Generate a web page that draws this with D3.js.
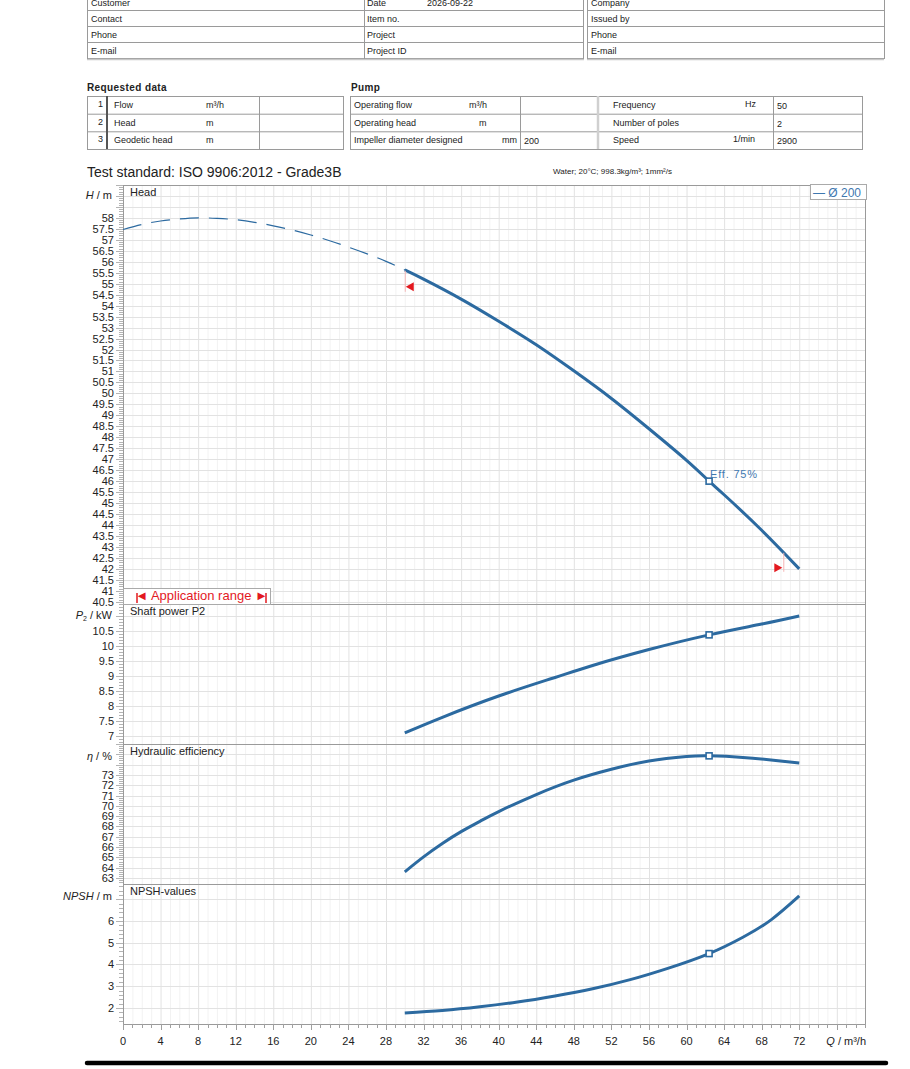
<!DOCTYPE html>
<html><head><meta charset="utf-8">
<script src="https://cdn.jsdelivr.net/npm/d3@7"></script>
<style>
body{margin:0;background:#fff;}
svg{display:block;font-family:"Liberation Sans",Arial,sans-serif;}
</style></head><body>
<svg id="c" width="910" height="1069"></svg>
<script>
// ---------------- data ----------------
const headFlowDashed = [0,2,4,6,8,10,12,14,16,18,20,22,24,26,28,30];
const headDashed     = [57.47,57.7,57.86,57.95,58.0,57.98,57.92,57.8,57.64,57.45,57.22,56.96,56.67,56.36,56.02,55.63];
const headFlow   = [30,32,36,40,44,48,52,56,60,62.4,64,68,72];
const headValues = [55.63,55.21,54.3,53.29,52.22,51.03,49.77,48.39,46.95,46.0,45.38,43.76,42.0];
const powerFlow   = [30,34,40,46,50,56,62.4,68,72];
const powerValues = [7.1,7.62,8.33,8.95,9.35,9.88,10.37,10.73,11.0];
const effFlow   = [30,32,34,36,38,40,44,48,52,56,60,62.4,66,69,72];
const effValues = [63.6,65.05,66.35,67.5,68.5,69.45,71.1,72.5,73.55,74.35,74.78,74.85,74.7,74.45,74.15];
const npshFlow   = [30,34,38,42,46,50,54,58,62.4,66,69,72];
const npshValues = [1.77,1.88,2.05,2.27,2.55,2.88,3.3,3.82,4.5,5.25,6.05,7.15];
const dutyFlow = 62.4;
const dutyValues = {head:46.0, power:10.37, eff:74.85, npsh:4.5};
const appRangeFlow = [30, 70.3];
const appRangeHead = [54.86, 42.05];
const xTickLabels = [0,4,8,12,16,20,24,28,32,36,40,44,48,52,56,60,64,68,72];
const headTickLabels = [40.5,41,41.5,42,42.5,43,43.5,44,44.5,45,45.5,46,46.5,47,47.5,48,48.5,49,49.5,50,50.5,51,51.5,52,52.5,53,53.5,54,54.5,55,55.5,56,56.5,57,57.5,58];
const powerTickLabels = [7,7.5,8,8.5,9,9.5,10,10.5];
const effTickLabels = [63,64,65,66,67,68,69,70,71,72,73];
const npshTickLabels = [2,3,4,5,6];

// ---------------- layout ----------------
const svg = d3.select("#c");
const BLUE = "#2c6aa0", RED = "#e3191f", GRID = "#e2e2e2", GRIDMINOR="#f2f2f2", BORDER = "#9a9a9a";
const X0 = 123, X1 = 865;
const x = d3.scaleLinear().domain([0,79]).range([X0,X1]);

function txt(g, s, px, py, opt={}) {
  return g.append("text").attr("x",px).attr("y",py).text(s)
    .attr("font-size", opt.size||9).attr("fill", opt.fill||"#222")
    .attr("text-anchor", opt.anchor||"start").attr("font-weight", opt.weight||"normal");
}

// ---------------- header table ----------------
const hdr = svg.append("g");
const rowsY = [-6,10,26,42,58];
function hline(g,x1,x2,y,c="#9a9a9a",w=1){g.append("line").attr("x1",x1).attr("x2",x2).attr("y1",y).attr("y2",y).attr("stroke",c).attr("stroke-width",w);}
function vline(g,xx,y1,y2,c="#9a9a9a",w=1){g.append("line").attr("x1",xx).attr("x2",xx).attr("y1",y1).attr("y2",y2).attr("stroke",c).attr("stroke-width",w);}
rowsY.slice(1).forEach(y=>{hline(hdr,87,584,y+0.5); hline(hdr,587,884,y+0.5);});
hline(hdr,87,584,59.5,"#c8c8c8",1.5); hline(hdr,587,884,59.5,"#c8c8c8",1.5);
[87.5,364.5,583.5].forEach(xx=>vline(hdr,xx,0,59));
[587.5,884.5].forEach(xx=>vline(hdr,xx,0,59));
const leftLabels = ["Customer","Contact","Phone","E-mail"];
const midLabels = ["Date","Item no.","Project","Project ID"];
const rightLabels = ["Company","Issued by","Phone","E-mail"];
leftLabels.forEach((s,i)=>txt(hdr,s,91,rowsY[i]+12));
midLabels.forEach((s,i)=>txt(hdr,s,367,rowsY[i]+12));
rightLabels.forEach((s,i)=>txt(hdr,s,591,rowsY[i]+12));
txt(hdr,"2026-09-22",427,rowsY[0]+12);

// ---------------- requested data / pump tables ----------------
const rq = svg.append("g");
txt(rq,"Requested data",87,91,{size:10,weight:"bold"}).attr("letter-spacing","0.4");
txt(rq,"Pump",351,91,{size:10,weight:"bold"}).attr("letter-spacing","0.4");
const tY = [96,113.7,131.3,149];
tY.forEach(y=>{hline(rq,87,344,y+0.5); hline(rq,350,863,y+0.5);});
[87.5,259.5,343.5].forEach(xx=>vline(rq,xx,96,149));
vline(rq,107,96,149,"#555",2);
[350.5,520.5,773.5,862.5].forEach(xx=>vline(rq,xx,96,149));
vline(rq,598,96,149,"#d0d0d0",2.5);
const reqNames = ["Flow","Head","Geodetic head"], reqUnits = ["m³/h","m","m"];
reqNames.forEach((s,i)=>{
  const cy = (tY[i]+tY[i+1])/2+3;
  txt(rq,String(i+1),103,cy-1,{anchor:"end"});
  txt(rq,s,114,cy);
  txt(rq,reqUnits[i],206,cy);
});
const pumpNames = ["Operating flow","Operating head","Impeller diameter designed"];
const pumpUnits = [["m³/h",469],["m",479],["mm",502]];
const pumpVals = ["","","200"];
const pump2Names = ["Frequency","Number of poles","Speed"];
const pump2Units = [["Hz",745],["",0],["1/min",733]];
const pump2Vals = ["50","2","2900"];
pumpNames.forEach((s,i)=>{
  const cy = (tY[i]+tY[i+1])/2+3;
  txt(rq,s,354,cy);
  txt(rq,pumpUnits[i][0],pumpUnits[i][1],cy);
  txt(rq,pumpVals[i],524,cy+1);
  txt(rq,pump2Names[i],613,cy);
  if(pump2Units[i][0]) txt(rq,pump2Units[i][0],pump2Units[i][1],cy-1);
  txt(rq,pump2Vals[i],777,cy+1);
});

// ---------------- title ----------------
txt(svg,"Test standard: ISO 9906:2012 - Grade3B",87,177,{size:14});
txt(svg,"Water; 20°C; 998.3kg/m³; 1mm²/s",553,174,{size:8});

// ---------------- panels ----------------
const panels = [
  {key:"head", top:185, bottom:604, domain:[40.4,59.5], labels:headTickLabels, minor:0.1, grid:0.5, title:"Head"},
  {key:"power", top:604, bottom:744, domain:[6.73,11.4], labels:powerTickLabels, minor:0.1, grid:0.5, title:"Shaft power P2"},
  {key:"eff", top:744, bottom:884, domain:[62.42,76.0], labels:effTickLabels, minor:0.2, grid:1, title:"Hydraulic efficiency"},
  {key:"npsh", top:884, bottom:1024, domain:[1.26,7.7], labels:npshTickLabels, minor:0.2, grid:0.5, title:"NPSH-values"}
];
const ys = {};
const gridG = svg.append("g"), axG = svg.append("g"), curveG = svg.append("g");

d3.range(0,80,1).forEach(q=>{
  if(q%4===0) return;
  gridG.append("line").attr("x1",x(q)+0.5).attr("x2",x(q)+0.5).attr("y1",185).attr("y2",1024).attr("stroke",GRIDMINOR);
});
panels.forEach(p=>{
  const y = d3.scaleLinear().domain(p.domain).range([p.bottom,p.top]);
  ys[p.key]=y;
  const start = Math.ceil(p.domain[0]/p.minor)*p.minor;
  const minorVals = d3.range(Math.round(start/p.minor), Math.floor(p.domain[1]/p.minor)+1).map(k=>+(k*p.minor).toFixed(2));
  minorVals.forEach(v=>{
    const isGrid = Math.abs(v/p.grid - Math.round(v/p.grid))<1e-6;
    const yy = Math.round(y(v))+0.5;
    if(isGrid) gridG.append("line").attr("x1",X0).attr("x2",X1).attr("y1",yy).attr("y2",yy).attr("stroke",GRID);
    axG.append("line").attr("x1",X0-(isGrid?7:4)).attr("x2",X0).attr("y1",yy).attr("y2",yy).attr("stroke","#b4b4b4");
  });
  p.labels.forEach(v=>{
    txt(axG,String(v),114,y(v)+4,{size:11,anchor:"end"});
  });
  txt(axG,p.title,130,p.top+11,{size:11});
});
d3.range(0,80,4).forEach(q=>{
  gridG.append("line").attr("x1",x(q)+0.5).attr("x2",x(q)+0.5).attr("y1",185).attr("y2",1024).attr("stroke",GRID);
});
axG.append("rect").attr("x",X0+0.5).attr("y",185.5).attr("width",X1-X0).attr("height",1024-185).attr("fill","none").attr("stroke",BORDER);
[604,744,884].forEach(yy=>hline(axG,X0,X1,yy+0.5,BORDER));
d3.range(0,80,1).forEach(q=>{
  vline(axG,Math.round(x(q))+0.5,1024,q%4===0?1030:1028,"#a0a0a0");
});
xTickLabels.forEach(q=>txt(axG,String(q),x(q),1045,{size:11,anchor:"middle"}));
const ql = axG.append("text").attr("x",866).attr("y",1045).attr("text-anchor","end").attr("font-size",11).attr("fill","#222");
ql.append("tspan").attr("font-style","italic").text("Q");
ql.append("tspan").text(" / m³/h");

function axTitle(parts, yy){
  const t = axG.append("text").attr("x",112).attr("y",yy).attr("text-anchor","end").attr("font-size",11).attr("fill","#222");
  parts.forEach(pt=>{
    const s = t.append("tspan").text(pt[0]);
    if(pt[1]==="i") s.attr("font-style","italic");
    if(pt[1]==="sub") s.attr("font-size",7).attr("dy",2);
    if(pt[1]==="up") s.attr("dy",-2);
  });
}
axTitle([["H","i"],[" / m"]],199);
axTitle([["P","i"],["2","sub"],[" / kW","up"]],619);
axTitle([["η","i"],[" / %"]],760);
axTitle([["NPSH","i"],[" / m"]],900);

// ---------------- curves ----------------
const line = (ysc)=>d3.line().x(d=>x(d[0])).y(d=>ysc(d[1])).curve(d3.curveNatural);
curveG.append("path").datum(headFlowDashed.map((q,i)=>[q,headDashed[i]]))
  .attr("d",line(ys.head)).attr("fill","none").attr("stroke",BLUE).attr("stroke-width",1.2).attr("stroke-dasharray","19,10");
const solidSeries = [
  ["head",headFlow,headValues],["power",powerFlow,powerValues],["eff",effFlow,effValues],["npsh",npshFlow,npshValues]
];
solidSeries.forEach(([k,qs,vs])=>{
  curveG.append("path").datum(qs.map((q,i)=>[q,vs[i]]))
    .attr("d",line(ys[k])).attr("fill","none").attr("stroke",BLUE).attr("stroke-width",3).attr("stroke-linecap","butt");
});
Object.keys(dutyValues).forEach(k=>{
  curveG.append("rect").attr("x",x(dutyFlow)-3).attr("y",ys[k](dutyValues[k])-3).attr("width",6).attr("height",6)
    .attr("fill","#fff").attr("stroke",BLUE).attr("stroke-width",1.6);
});
txt(curveG,"Eff. 75%",x(dutyFlow)+1,ys.head(dutyValues.head)-3,{size:11,fill:"#3f78b0"}).attr("letter-spacing","0.8");

const ax0 = x(appRangeFlow[0]), ax1 = x(appRangeFlow[1]);
const ay0 = ys.head(appRangeHead[0]), ay1 = ys.head(appRangeHead[1]);
vline(curveG,ax0+0.5,ay0-16,ay0+5,"#f4b6b6");
vline(curveG,ax1+0.5,ay1-15,ay1+4,"#f4b6b6");
curveG.append("path").attr("d",`M${ax0+1},${ay0} L${ax0+9},${ay0-4.5} L${ax0+9},${ay0+4.5} Z`).attr("fill",RED);
curveG.append("path").attr("d",`M${ax1-1},${ay1} L${ax1-9},${ay1-4.5} L${ax1-9},${ay1+4.5} Z`).attr("fill",RED);

const ar = svg.append("g");
ar.append("rect").attr("x",X0+0.5).attr("y",588.5).attr("width",147).attr("height",16).attr("fill","#fff").attr("stroke","#aaa");
vline(ar,137,593,603,RED,1.5);
vline(ar,266,593,603,RED,1.5);
txt(ar,"◄ Application range ►",201.5,600,{size:13,fill:RED,anchor:"middle"});

const lg = svg.append("g");
lg.append("rect").attr("x",810.5).attr("y",184.5).attr("width",56).attr("height",15).attr("fill","#fff").attr("stroke","#aaa");
txt(lg,"— Ø 200",813,197,{size:12,fill:"#3f78b0"});

svg.append("line").attr("x1",87).attr("x2",886).attr("y1",1063).attr("y2",1063).attr("stroke","#000").attr("stroke-width",4.5).attr("stroke-linecap","round");
</script>
</body></html>
